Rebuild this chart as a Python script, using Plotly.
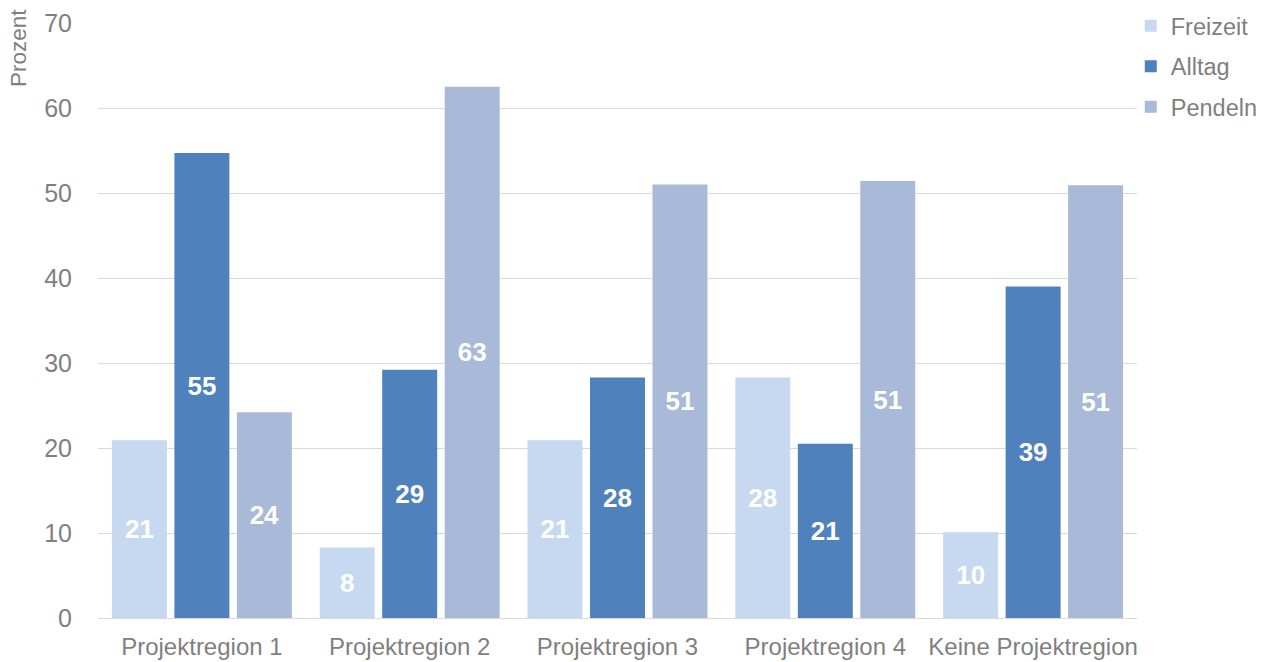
import plotly.graph_objects as go

regions = ["Projektregion 1", "Projektregion 2", "Projektregion 3", "Projektregion 4", "Keine Projektregion"]
freizeit = [20.9, 8.3, 20.9, 28.3, 10.1]
alltag = [54.7, 29.2, 28.3, 20.5, 39.0]
pendeln = [24.2, 62.5, 51.0, 51.4, 50.9]
y_ticks = [0, 10, 20, 30, 40, 50, 60, 70]

series = [
    ("Freizeit", freizeit, "#C6D9F0"),
    ("Alltag", alltag, "#4F81BD"),
    ("Pendeln", pendeln, "#A9B9D8"),
]

FONT = "Liberation Sans, Arial, sans-serif"
GRAY = "#7F7F7F"

fig = go.Figure()
for name, vals, color in series:
    fig.add_trace(go.Bar(
        name=name,
        x=regions,
        y=vals,
        marker=dict(color=color, line=dict(width=0)),
        legendgroup=name,
        texttemplate="%{y:.0f}",
        textposition="inside",
        insidetextanchor="middle",
        textangle=0,
        constraintext="none",
        textfont=dict(family=FONT, size=26, color="white", weight="bold"),
        hoverinfo="skip",
    ))

fig.update_layout(
    width=1267,
    height=662,
    margin=dict(l=98, r=130, t=23, b=44, autoexpand=False),
    plot_bgcolor="white",
    paper_bgcolor="white",
    barmode="group",
    bargap=0.098,
    bargroupgap=0.12,
    font=dict(family=FONT, color=GRAY),
    uniformtext=dict(minsize=26, mode="show"),
    legend=dict(
        x=0.994, y=1.032, xanchor="left", yanchor="top",
        font=dict(size=23.5, color=GRAY),
        tracegroupgap=7,
        bgcolor="rgba(0,0,0,0)",
    ),
    xaxis=dict(
        tickfont=dict(size=24, color=GRAY),
        showline=False,
        ticks="",
        showgrid=False,
        ticklabelstandoff=12,
    ),
    yaxis=dict(
        range=[0, 70],
        tickvals=y_ticks,
        tickfont=dict(size=25, color=GRAY),
        showgrid=True,
        gridcolor="#D9D9D9",
        gridwidth=1,
        zeroline=True,
        zerolinecolor="#D9D9D9",
        zerolinewidth=1,
        showline=False,
        ticks="",
        ticklabelstandoff=25,
    ),
    annotations=[dict(
        text="Prozent",
        xref="paper", yref="paper",
        x=-0.076, y=0.958,
        xanchor="center", yanchor="middle",
        textangle=-90,
        showarrow=False,
        font=dict(size=22.5, color=GRAY, family=FONT),
    )],
)

fig.write_html("out.html")
